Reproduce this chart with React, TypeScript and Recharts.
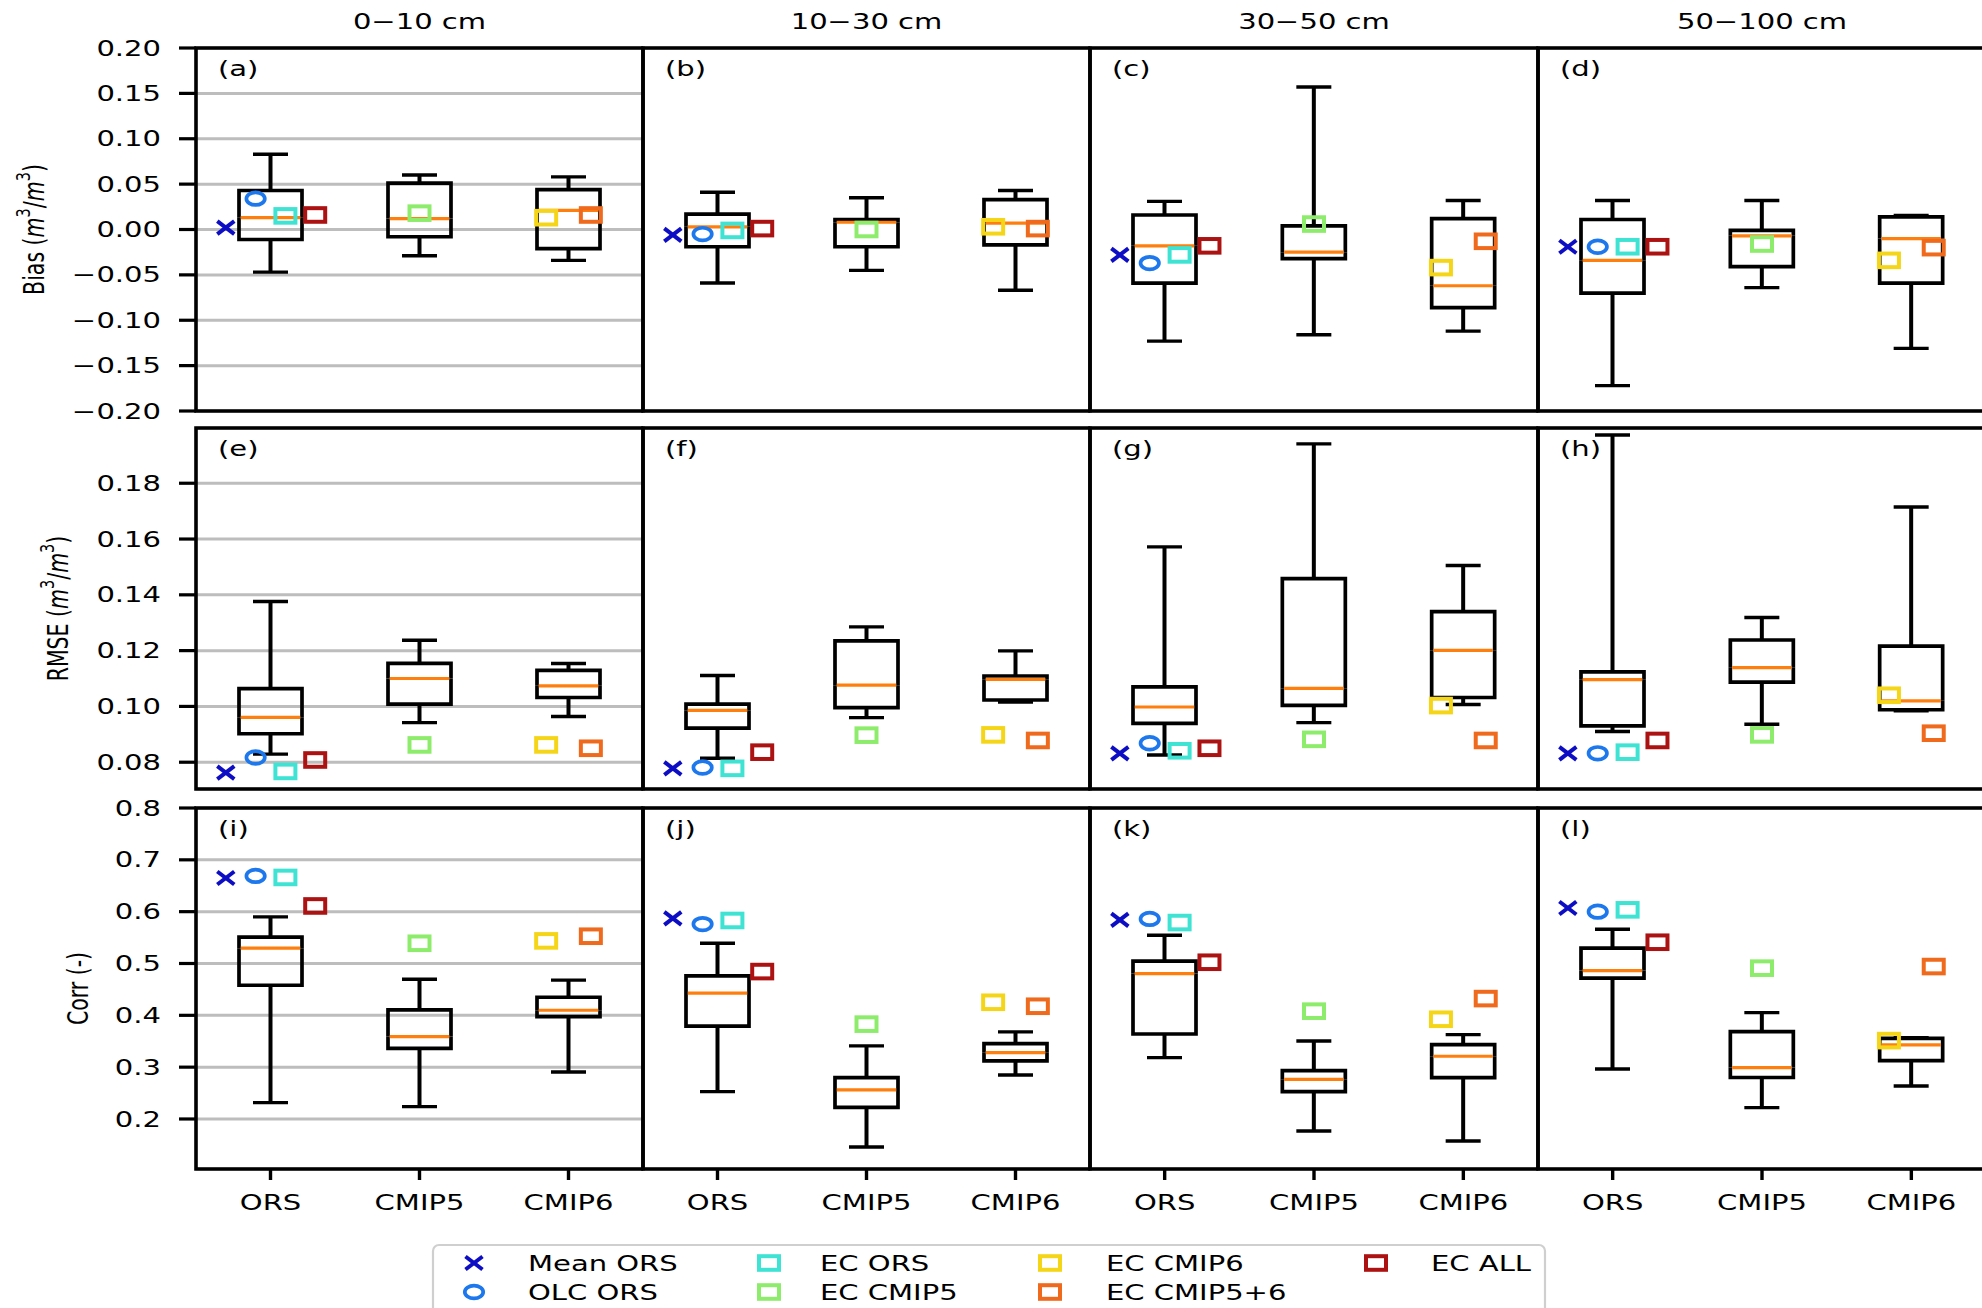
import React from 'react';
import { ComposedChart, Bar, Scatter, XAxis, YAxis, CartesianGrid, ReferenceArea } from 'recharts';

// columns = soil depth layers, boxes = product groups
const depths = ['0−10 cm', '10−30 cm', '30−50 cm', '50−100 cm'];
const groups = ['ORS', 'CMIP5', 'CMIP6'];
const panelLetters = [
  ['(a)', '(b)', '(c)', '(d)'],
  ['(e)', '(f)', '(g)', '(h)'],
  ['(i)', '(j)', '(k)', '(l)'],
];

// box stats [min, q1, median, q3, max] for ORS, CMIP5, CMIP6 (one block per depth)
const biasBoxes = [
  [[-0.047, -0.011, 0.013, 0.043, 0.083], [-0.029, -0.008, 0.012, 0.051, 0.06], [-0.034, -0.021, 0.021, 0.044, 0.058]],
  [[-0.059, -0.019, 0.003, 0.017, 0.041], [-0.045, -0.019, 0.008, 0.011, 0.035], [-0.067, -0.017, 0.007, 0.033, 0.043]],
  [[-0.123, -0.059, -0.018, 0.016, 0.031], [-0.116, -0.032, -0.025, 0.004, 0.157], [-0.112, -0.086, -0.062, 0.012, 0.032]],
  [[-0.172, -0.07, -0.034, 0.011, 0.032], [-0.064, -0.041, -0.007, -0.001, 0.032], [-0.131, -0.059, -0.01, 0.014, 0.0156]],
];
const rmseBoxes = [
  [[0.0829, 0.0902, 0.0961, 0.1064, 0.1376], [0.0942, 0.1008, 0.11, 0.1154, 0.1237], [0.0964, 0.1032, 0.1074, 0.1129, 0.1154]],
  [[0.0814, 0.0922, 0.0986, 0.1008, 0.1111], [0.096, 0.0996, 0.1076, 0.1235, 0.1285], [0.1016, 0.1023, 0.1097, 0.1109, 0.1199]],
  [[0.0826, 0.0939, 0.0998, 0.107, 0.1572], [0.0942, 0.1004, 0.1065, 0.1458, 0.1941], [0.1007, 0.1032, 0.1201, 0.134, 0.1505]],
  [[0.091, 0.093, 0.1096, 0.1124, 0.1973], [0.0936, 0.1087, 0.1139, 0.1238, 0.1319], [0.0984, 0.0988, 0.102, 0.1216, 0.1715]],
];
const corrBoxes = [
  [[0.2315, 0.458, 0.5295, 0.5507, 0.59], [0.2238, 0.3364, 0.359, 0.4104, 0.4696], [0.2907, 0.3976, 0.4098, 0.4349, 0.468]],
  [[0.2528, 0.379, 0.443, 0.476, 0.539], [0.146, 0.2225, 0.256, 0.2798, 0.341], [0.285, 0.312, 0.328, 0.3454, 0.368]],
  [[0.3184, 0.364, 0.4806, 0.5044, 0.5546], [0.1768, 0.2528, 0.2766, 0.2933, 0.3506], [0.1575, 0.2798, 0.321, 0.3435, 0.3628]],
  [[0.2965, 0.4716, 0.4864, 0.5295, 0.5662], [0.2219, 0.28, 0.2991, 0.3686, 0.4053], [0.2637, 0.3126, 0.3429, 0.3557, 0.357]],
];

// single estimates: rows = [Bias, RMSE, Corr], columns = depth
const meanOrs = [
  [0.002, -0.006, -0.028, -0.019],
  [0.0763, 0.0778, 0.0832, 0.0832],
  [0.665, 0.587, 0.584, 0.607],
];
const olcOrs = [
  [0.034, -0.005, -0.037, -0.019],
  [0.0817, 0.0781, 0.0868, 0.0832],
  [0.669, 0.576, 0.586, 0.6],
];
const ecOrs = [
  [0.015, -0.001, -0.028, -0.019],
  [0.0767, 0.0778, 0.0841, 0.0836],
  [0.666, 0.583, 0.579, 0.6035],
];
const ecCmip5 = [
  [0.018, 0.0, 0.006, -0.016],
  [0.0862, 0.0897, 0.0882, 0.0898],
  [0.539, 0.383, 0.408, 0.491],
];
const ecCmip6 = [
  [0.013, 0.003, -0.042, -0.034],
  [0.0862, 0.0898, 0.1003, 0.104],
  [0.5436, 0.4252, 0.3924, 0.3512],
];
const ecCmip56 = [
  [0.016, 0.001, -0.013, -0.02],
  [0.085, 0.0878, 0.0878, 0.0904],
  [0.5526, 0.4175, 0.4323, 0.4941],
];
const ecAll = [
  [0.016, 0.001, -0.018, -0.019],
  [0.0808, 0.0836, 0.085, 0.0878],
  [0.611, 0.4844, 0.5024, 0.541],
];

const seriesNames = ['Mean ORS', 'OLC ORS', 'EC ORS', 'EC CMIP5', 'EC CMIP6', 'EC CMIP5+6', 'EC ALL'];

const biasTicks = [-0.2, -0.15, -0.1, -0.05, 0, 0.05, 0.1, 0.15, 0.2];
const rmseTicks = [0.08, 0.1, 0.12, 0.14, 0.16, 0.18];
const corrTicks = [0.2, 0.3, 0.4, 0.5, 0.6, 0.7, 0.8];

// ---- layout / style ----
const FONT = "'DejaVu Sans', sans-serif";
const FS = 21.5;
const SX = 1.35; // the figure is stretched horizontally
const PAD = 4;
const PAD_TOP = 16;
const Y_AXIS_W = 196;
const COL_LEFT = [196, 643, 1090, 1538];
const PLOT_W = [447, 447, 448, 448];
const ROW_TOP = [48, 428, 808];
const ROW_H = [363, 361, 361];
const BOX_W = 63;
const GRID = '#bdbdbd';
const MEDIAN = '#ff7f0e';

const fmtBias = (v: number) => (v < 0 ? '\u2212' : '') + Math.abs(v).toFixed(2);

const ROWS = [
  { boxes: biasBoxes, domain: [-0.2, 0.2], ticks: biasTicks, fmt: fmtBias, titleX: 34, name: 'Bias', unit: true },
  { boxes: rmseBoxes, domain: [0.0704, 0.1998], ticks: rmseTicks, fmt: (v: number) => v.toFixed(2), titleX: 58, name: 'RMSE', unit: true },
  { boxes: corrBoxes, domain: [0.1035, 0.8], ticks: corrTicks, fmt: (v: number) => v.toFixed(1), titleX: 78, name: 'Corr', unit: false },
];

const markerSeries = [
  { name: seriesNames[0], values: meanOrs, group: 0, dx: -0.3, kind: 'x', color: '#0d0dc4' },
  { name: seriesNames[1], values: olcOrs, group: 0, dx: -0.1, kind: 'o', color: '#1c78ec' },
  { name: seriesNames[2], values: ecOrs, group: 0, dx: 0.1, kind: 's', color: '#3fe3d3' },
  { name: seriesNames[3], values: ecCmip5, group: 1, dx: 0, kind: 's', color: '#8eec6c' },
  { name: seriesNames[4], values: ecCmip6, group: 2, dx: -0.15, kind: 's', color: '#f5d518' },
  { name: seriesNames[5], values: ecCmip56, group: 2, dx: 0.15, kind: 's', color: '#ef6a1c' },
  { name: seriesNames[6], values: ecAll, group: 0, dx: 0.3, kind: 's', color: '#ac1212' },
];

const Glyph = ({ kind, color, cx, cy }: any) => {
  if (kind === 'x') {
    return (
      <g stroke={color} strokeWidth={4}>
        <line x1={cx - 8.5} y1={cy - 6.5} x2={cx + 8.5} y2={cy + 6.5} />
        <line x1={cx - 8.5} y1={cy + 6.5} x2={cx + 8.5} y2={cy - 6.5} />
      </g>
    );
  }
  if (kind === 'o') {
    return <ellipse cx={cx} cy={cy} rx={9.2} ry={6.3} fill="none" stroke={color} strokeWidth={3.7} />;
  }
  return <rect x={cx - 10} y={cy - 6.8} width={20} height={13.6} fill="none" stroke={color} strokeWidth={4} />;
};

const span = (p: any) => {
  const top = Math.min(p.y, p.y + p.height);
  const bot = Math.max(p.y, p.y + p.height);
  return { top, bot, left: p.x, right: p.x + p.width, cx: p.x + p.width / 2, w: p.width };
};

const CAP = 17.5;

const LowerWhisker = (p: any) => {
  const s = span(p);
  return (
    <g stroke="#000">
      <line x1={s.cx} x2={s.cx} y1={s.top} y2={s.bot} strokeWidth={4} />
      <line x1={s.cx - CAP} x2={s.cx + CAP} y1={s.bot} y2={s.bot} strokeWidth={3.4} />
    </g>
  );
};

const UpperWhisker = (p: any) => {
  const s = span(p);
  return (
    <g stroke="#000">
      <line x1={s.cx} x2={s.cx} y1={s.top} y2={s.bot} strokeWidth={4} />
      <line x1={s.cx - CAP} x2={s.cx + CAP} y1={s.top} y2={s.top} strokeWidth={3.4} />
    </g>
  );
};

const BoxLower = (p: any) => {
  const s = span(p);
  return (
    <path
      d={`M${s.left},${s.top} L${s.left},${s.bot} L${s.right},${s.bot} L${s.right},${s.top}`}
      fill="none"
      stroke="#000"
      strokeWidth={3.7}
    />
  );
};

const BoxUpper = (p: any) => {
  const s = span(p);
  return (
    <g>
      <path
        d={`M${s.left},${s.bot} L${s.left},${s.top} L${s.right},${s.top} L${s.right},${s.bot}`}
        fill="none"
        stroke="#000"
        strokeWidth={3.7}
      />
      <line x1={s.left + 1.8} x2={s.right - 1.8} y1={s.bot} y2={s.bot} stroke={MEDIAN} strokeWidth={3.2} />
    </g>
  );
};

const STextProps = { fontFamily: FONT, fontSize: FS, fill: '#000', dominantBaseline: 'central' as const };

const YTick = ({ x, y, payload, fmt }: any) => (
  <text transform={`translate(${x},${y}) scale(${SX},1)`} textAnchor="end" {...STextProps}>
    {fmt(payload.value)}
  </text>
);

const XTick = ({ x, y, payload }: any) => (
  <text transform={`translate(${x},${y}) scale(${SX},1)`} textAnchor="middle" {...STextProps}>
    {payload.value}
  </text>
);

const AxisTitle = ({ row, viewBox }: any) => {
  const cfg = ROWS[row];
  const cy = viewBox && viewBox.height ? viewBox.y + viewBox.height / 2 : PAD_TOP + ROW_H[row] / 2;
  return (
    <text
      transform={`translate(${cfg.titleX},${cy}) scale(${SX},1) rotate(-90)`}
      textAnchor="middle"
      fontFamily={FONT}
      fontSize={20.5}
      fill="#000"
      dominantBaseline="central"
    >
      {cfg.unit ? (
        <>
          {cfg.name} (<tspan fontStyle="italic">m</tspan>
          <tspan dy={-8} fontSize={14.5}>3</tspan>
          <tspan dy={8}>/</tspan>
          <tspan fontStyle="italic">m</tspan>
          <tspan dy={-8} fontSize={14.5}>3</tspan>
          <tspan dy={8}>)</tspan>
        </>
      ) : (
        `${cfg.name} (-)`
      )}
    </text>
  );
};

function Panel({ row, col }: { row: number; col: number }) {
  const cfg = ROWS[row];
  const first = col === 0;
  const bottomH = row === 2 ? 50 : 14;
  const width = (first ? Y_AXIS_W : PAD) + PLOT_W[col] + PAD;
  const height = PAD_TOP + ROW_H[row] + bottomH;
  const data = groups.map((g, i) => {
    const [mn, q1, md, q3, mx] = cfg.boxes[col][i];
    return { cat: g, base: mn, lowW: q1 - mn, boxLo: md - q1, boxHi: q3 - md, upW: mx - q3 };
  });

  return (
    <ComposedChart
      width={width}
      height={height}
      data={data}
      margin={{ top: PAD_TOP, right: PAD, bottom: 0, left: first ? 0 : PAD }}
    >
      <CartesianGrid xAxisId="cat" vertical={false} stroke={GRID} strokeWidth={3} />
      <XAxis
        xAxisId="cat"
        dataKey="cat"
        type="category"
        interval={0}
        axisLine={false}
        tickSize={11}
        tickMargin={22}
        tickLine={{ stroke: '#000', strokeWidth: 3.4 }}
        tick={row === 2 ? (p: any) => <XTick {...p} /> : false}
        height={bottomH}
      />
      <XAxis xAxisId="num" dataKey="x" type="number" domain={[0.5, 3.5]} allowDataOverflow hide />
      <YAxis
        type="number"
        domain={cfg.domain}
        ticks={cfg.ticks}
        interval={0}
        allowDataOverflow
        width={first ? Y_AXIS_W : 0}
        axisLine={false}
        tickSize={17}
        tickMargin={18}
        tickLine={first ? { stroke: '#000', strokeWidth: 3.2 } : false}
        tick={first ? (p: any) => <YTick {...p} fmt={cfg.fmt} /> : false}
        label={first ? (p: any) => <AxisTitle row={row} viewBox={p.viewBox} /> : undefined}
      />
      <Bar xAxisId="cat" stackId="box" dataKey="base" barSize={BOX_W} shape={() => <g />} isAnimationActive={false} />
      <Bar xAxisId="cat" stackId="box" dataKey="lowW" barSize={BOX_W} shape={LowerWhisker} isAnimationActive={false} />
      <Bar xAxisId="cat" stackId="box" dataKey="boxLo" barSize={BOX_W} shape={BoxLower} isAnimationActive={false} />
      <Bar xAxisId="cat" stackId="box" dataKey="boxHi" barSize={BOX_W} shape={BoxUpper} isAnimationActive={false} />
      <Bar xAxisId="cat" stackId="box" dataKey="upW" barSize={BOX_W} shape={UpperWhisker} isAnimationActive={false} />
      {markerSeries.map((m) => (
        <Scatter
          key={m.name}
          name={m.name}
          xAxisId="num"
          dataKey="y"
          data={[{ x: m.group + 1 + m.dx, y: m.values[row][col] }]}
          shape={(p: any) => <Glyph kind={m.kind} color={m.color} cx={p.cx} cy={p.cy} />}
          isAnimationActive={false}
        />
      ))}
      <ReferenceArea
        xAxisId="num"
        x1={0.5}
        x2={3.5}
        y1={cfg.domain[0]}
        y2={cfg.domain[1]}
        fill="none"
        stroke="#000"
        strokeWidth={3.6}
        ifOverflow="visible"
      />
    </ComposedChart>
  );
}

// legend slot positions
const LEG_MARK_X = [474, 769, 1050, 1376];
const LEG_TEXT_X = [528, 820, 1106, 1431];
const LEG_ROW_Y = [1263, 1292];
const legendSlots = [[0, 0], [0, 1], [1, 0], [1, 1], [2, 0], [2, 1], [3, 0]];

const SText = ({ x, y, anchor = 'start', children }: any) => (
  <text transform={`translate(${x},${y}) scale(${SX},1)`} textAnchor={anchor} {...STextProps}>
    {children}
  </text>
);

export default function App() {
  return (
    <div
      style={{
        position: 'absolute',
        left: 0,
        top: 0,
        width: 1982,
        height: 1308,
        overflow: 'hidden',
        background: '#fff',
      }}
    >
      {ROWS.map((_, r) =>
        depths.map((d, c) => (
          <div
            key={`${r}-${c}`}
            style={{ position: 'absolute', left: c === 0 ? 0 : COL_LEFT[c] - PAD, top: ROW_TOP[r] - PAD_TOP }}
          >
            <Panel row={r} col={c} />
          </div>
        ))
      )}
      <svg width={1982} height={1308} style={{ position: 'absolute', left: 0, top: 0, pointerEvents: 'none' }}>
        {depths.map((d, c) => (
          <SText key={d} x={COL_LEFT[c] + PLOT_W[c] / 2} y={21} anchor="middle">
            {d}
          </SText>
        ))}
        {panelLetters.map((rowL, r) =>
          rowL.map((l, c) => (
            <SText key={l} x={COL_LEFT[c] + 22} y={ROW_TOP[r] + 20}>
              {l}
            </SText>
          ))
        )}
        <rect x={433} y={1245} width={1112} height={90} rx={6} fill="#fff" stroke="#cfcfcf" strokeWidth={2.2} />
        {markerSeries.map((m, i) => {
          const [lc, lr] = legendSlots[i];
          return (
            <g key={m.name}>
              <Glyph kind={m.kind} color={m.color} cx={LEG_MARK_X[lc]} cy={LEG_ROW_Y[lr]} />
              <SText x={LEG_TEXT_X[lc]} y={LEG_ROW_Y[lr]}>
                {m.name}
              </SText>
            </g>
          );
        })}
      </svg>
    </div>
  );
}
